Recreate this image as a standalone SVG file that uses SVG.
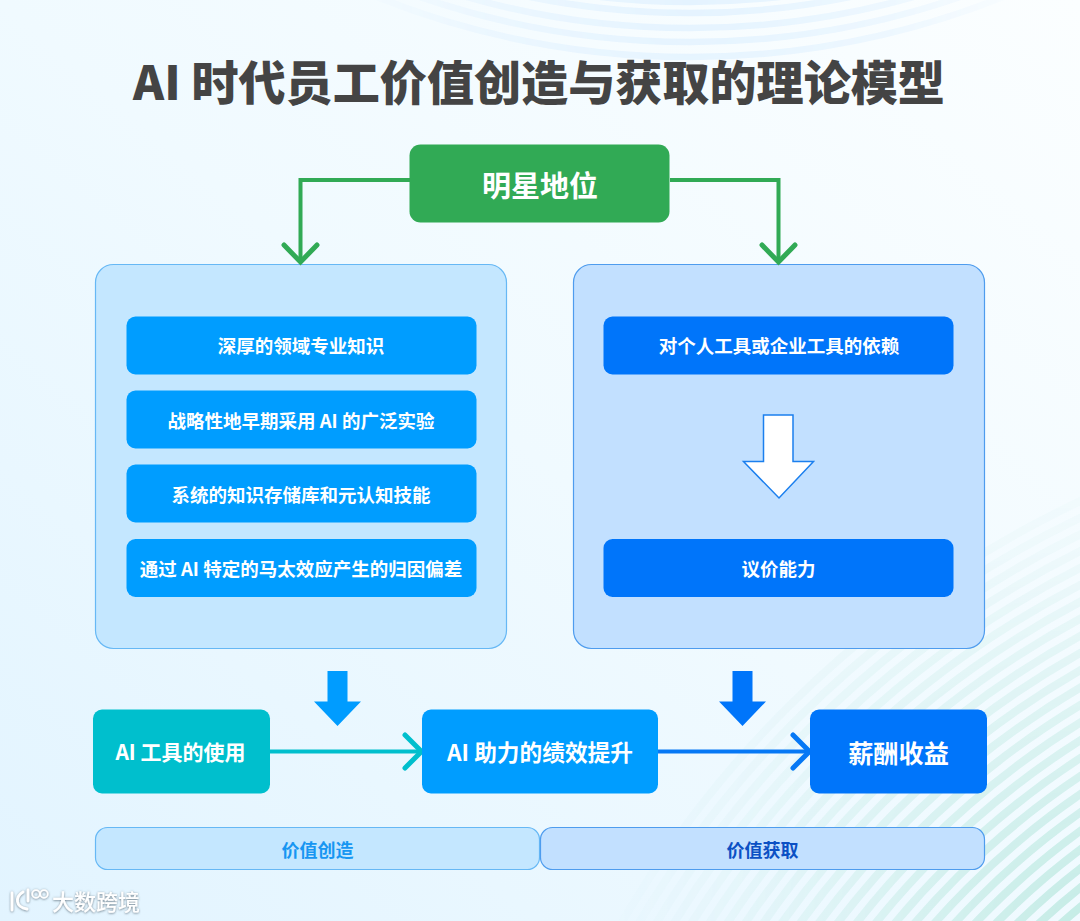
<svg xmlns="http://www.w3.org/2000/svg" width="1080" height="921" viewBox="0 0 1080 921">
<defs>
<linearGradient id="bg" x1="1" y1="0" x2="0" y2="1"><stop offset="0" stop-color="#fbfeff"/><stop offset="0.5" stop-color="#f0faff"/><stop offset="1" stop-color="#e2f4ff"/></linearGradient>
<radialGradient id="fadeBR" gradientUnits="userSpaceOnUse" cx="1080" cy="921" r="480"><stop offset="0" stop-color="#fff" stop-opacity="0.9"/><stop offset="0.4" stop-color="#fff" stop-opacity="0.45"/><stop offset="0.75" stop-color="#fff" stop-opacity="0.13"/><stop offset="1" stop-color="#fff" stop-opacity="0"/></radialGradient>
<radialGradient id="fadeT" gradientUnits="userSpaceOnUse" cx="690" cy="0" r="340"><stop offset="0" stop-color="#fff" stop-opacity="1"/><stop offset="0.6" stop-color="#fff" stop-opacity="0.55"/><stop offset="1" stop-color="#fff" stop-opacity="0"/></radialGradient>
<mask id="mBR"><rect width="1080" height="921" fill="url(#fadeBR)"/></mask>
<mask id="mT"><rect width="1080" height="130" fill="url(#fadeT)"/></mask>
<filter id="wm" x="-10%" y="-20%" width="120%" height="140%"><feDropShadow dx="0" dy="0.6" stdDeviation="0.9" flood-color="#5c6c78" flood-opacity="0.9"/></filter>
</defs>
<style>
text{font-family:"Noto Sans CJK SC","Noto Sans",sans-serif;text-anchor:middle;dominant-baseline:central}
.item{font-size:18.5px;font-weight:700;fill:#fff}
.big{font-weight:700;fill:#fff}
.conn{fill:none;stroke-width:4;stroke-linejoin:miter}
.head{fill:none;stroke-width:5;stroke-linecap:round;stroke-linejoin:miter}
.arcB{fill:none;stroke:#c0eae3;stroke-width:8}
.arcT{fill:none;stroke:#e4f3ff;stroke-width:6.500}
</style>
<rect id="background" width="1080" height="921" fill="url(#bg)"/>
<g id="arcs-top" mask="url(#mT)">
<circle class="arcT" cx="690" cy="-790" r="792"/><circle class="arcT" cx="690" cy="-790" r="803"/><circle class="arcT" cx="690" cy="-790" r="818"/><circle class="arcT" cx="690" cy="-790" r="832"/><circle class="arcT" cx="690" cy="-790" r="847"/>
</g>
<g id="arcs-bottom" mask="url(#mBR)">
<circle class="arcB" cx="1530" cy="1450" r="690"/><circle class="arcB" cx="1530" cy="1450" r="705"/><circle class="arcB" cx="1530" cy="1450" r="720"/><circle class="arcB" cx="1530" cy="1450" r="735"/><circle class="arcB" cx="1530" cy="1450" r="750"/><circle class="arcB" cx="1530" cy="1450" r="765"/><circle class="arcB" cx="1530" cy="1450" r="780"/><circle class="arcB" cx="1530" cy="1450" r="795"/><circle class="arcB" cx="1530" cy="1450" r="810"/><circle class="arcB" cx="1530" cy="1450" r="825"/><circle class="arcB" cx="1530" cy="1450" r="840"/><circle class="arcB" cx="1530" cy="1450" r="855"/><circle class="arcB" cx="1530" cy="1450" r="870"/><circle class="arcB" cx="1530" cy="1450" r="885"/><circle class="arcB" cx="1530" cy="1450" r="900"/><circle class="arcB" cx="1530" cy="1450" r="915"/><circle class="arcB" cx="1530" cy="1450" r="930"/><circle class="arcB" cx="1530" cy="1450" r="945"/><circle class="arcB" cx="1530" cy="1450" r="960"/><circle class="arcB" cx="1530" cy="1450" r="975"/><circle class="arcB" cx="1530" cy="1450" r="990"/><circle class="arcB" cx="1530" cy="1450" r="1005"/><circle class="arcB" cx="1530" cy="1450" r="1020"/><circle class="arcB" cx="1530" cy="1450" r="1035"/><circle class="arcB" cx="1530" cy="1450" r="1050"/>
</g>
<text id="title" x="539" y="79" font-size="47.100" font-weight="900" fill="#444444">AI 时代员工价值创造与获取的理论模型</text>

<g id="panel-left"><rect x="95.500" y="264.500" width="411" height="384" rx="18" fill="#c4e7ff" stroke="#66b8f5" stroke-width="1.200"/></g>
<g id="panel-right"><rect x="573.500" y="264.500" width="411" height="384" rx="18" fill="#c2e0ff" stroke="#4e9cee" stroke-width="1.200"/></g>

<g id="connectors">
<path class="conn" stroke="#31aa55" d="M410 180H300.500V262"/>
<path class="conn" stroke="#31aa55" d="M670 180H778.500V262"/>
<path class="head" stroke="#31aa55" d="M284 245L300.500 262L317 245"/>
<path class="head" stroke="#31aa55" d="M762 245L778.500 262L795 245"/>
<path class="conn" stroke="#00bfcd" d="M270 751.500H420"/>
<path class="head" stroke="#00bfcd" d="M405 735L421.500 751.500L405 768"/>
<path class="conn" stroke="#0678f5" d="M658 751.500H808"/>
<path class="head" stroke="#0678f5" d="M793 735L809.500 751.500L793 768"/>
<path fill="#009cff" d="M327.500 671H347.500V701.500H361L337.500 726L314 701.500H327.500Z"/>
<path fill="#0075fa" d="M732.500 671H752.500V701.500H766L742.500 726L719 701.500H732.500Z"/>
<path fill="#fff" stroke="#1b7fee" stroke-width="1.500" d="M763.500 415H793V461.500H813.500L779 498L743.500 461.500H763.500Z"/>
</g>

<g id="star"><rect x="409.500" y="144.500" width="260" height="78" rx="11" fill="#31aa55"/><text class="big" x="540" y="183.500" font-size="29">明星地位</text></g>

<g id="l1"><rect x="126.500" y="316.500" width="350" height="58" rx="9" fill="#009dff"/><text class="item" x="301" y="345">深厚的领域专业知识</text></g>
<g id="l2"><rect x="126.500" y="390.500" width="350" height="58" rx="9" fill="#009dff"/><text class="item" x="301" y="419.500">战略性地早期采用 AI 的广泛实验</text></g>
<g id="l3"><rect x="126.500" y="464.500" width="350" height="58" rx="9" fill="#009dff"/><text class="item" x="301" y="493.500">系统的知识存储库和元认知技能</text></g>
<g id="l4"><rect x="126.500" y="539" width="350" height="58" rx="9" fill="#009dff"/><text class="item" x="301" y="567.500">通过 AI 特定的马太效应产生的归因偏差</text></g>

<g id="r1"><rect x="603.500" y="316.500" width="350" height="58" rx="9" fill="#0075fa"/><text class="item" x="779" y="345">对个人工具或企业工具的依赖</text></g>
<g id="r2"><rect x="603.500" y="539" width="350" height="58" rx="9" fill="#0075fa"/><text class="item" x="778.500" y="567.500">议价能力</text></g>

<g id="use"><rect x="93" y="709.500" width="177" height="84" rx="9" fill="#00bfcd"/><text class="big" x="180.500" y="751" font-size="21">AI 工具的使用</text></g>
<g id="perf"><rect x="422" y="709.500" width="236" height="84" rx="9" fill="#009dff"/><text class="big" x="540" y="751.500" font-size="22.700">AI 助力的绩效提升</text></g>
<g id="pay"><rect x="810" y="709.500" width="177" height="84" rx="9" fill="#0075fa"/><text class="big" x="898.500" y="751.500" font-size="25.200">薪酬收益</text></g>

<g id="tag-create"><rect x="95.500" y="827.500" width="444" height="42" rx="12" fill="#c4e7ff" stroke="#66b8f5" stroke-width="1.200"/><text x="317.500" y="848.500" font-size="18" font-weight="700" fill="#1796f2">价值创造</text></g>
<g id="tag-capture"><rect x="540.500" y="827.500" width="444" height="42" rx="12" fill="#c2e0ff" stroke="#4e9cee" stroke-width="1.200"/><text x="762.500" y="848.500" font-size="18" font-weight="700" fill="#0b50c4">价值获取</text></g>

<g id="watermark" filter="url(#wm)">
<path fill="none" stroke="#fff" stroke-width="2.800" stroke-linecap="round" d="M12 893V910M23 892C15 897 15 907 27 909M28 890V901"/>
<circle cx="36" cy="894" r="3.800" fill="none" stroke="#fff" stroke-width="1.800"/><circle cx="44" cy="894" r="3.800" fill="none" stroke="#fff" stroke-width="1.800"/>
<text x="96" y="900" font-size="22" font-weight="500" fill="#fff">大数跨境</text>
</g>
</svg>
